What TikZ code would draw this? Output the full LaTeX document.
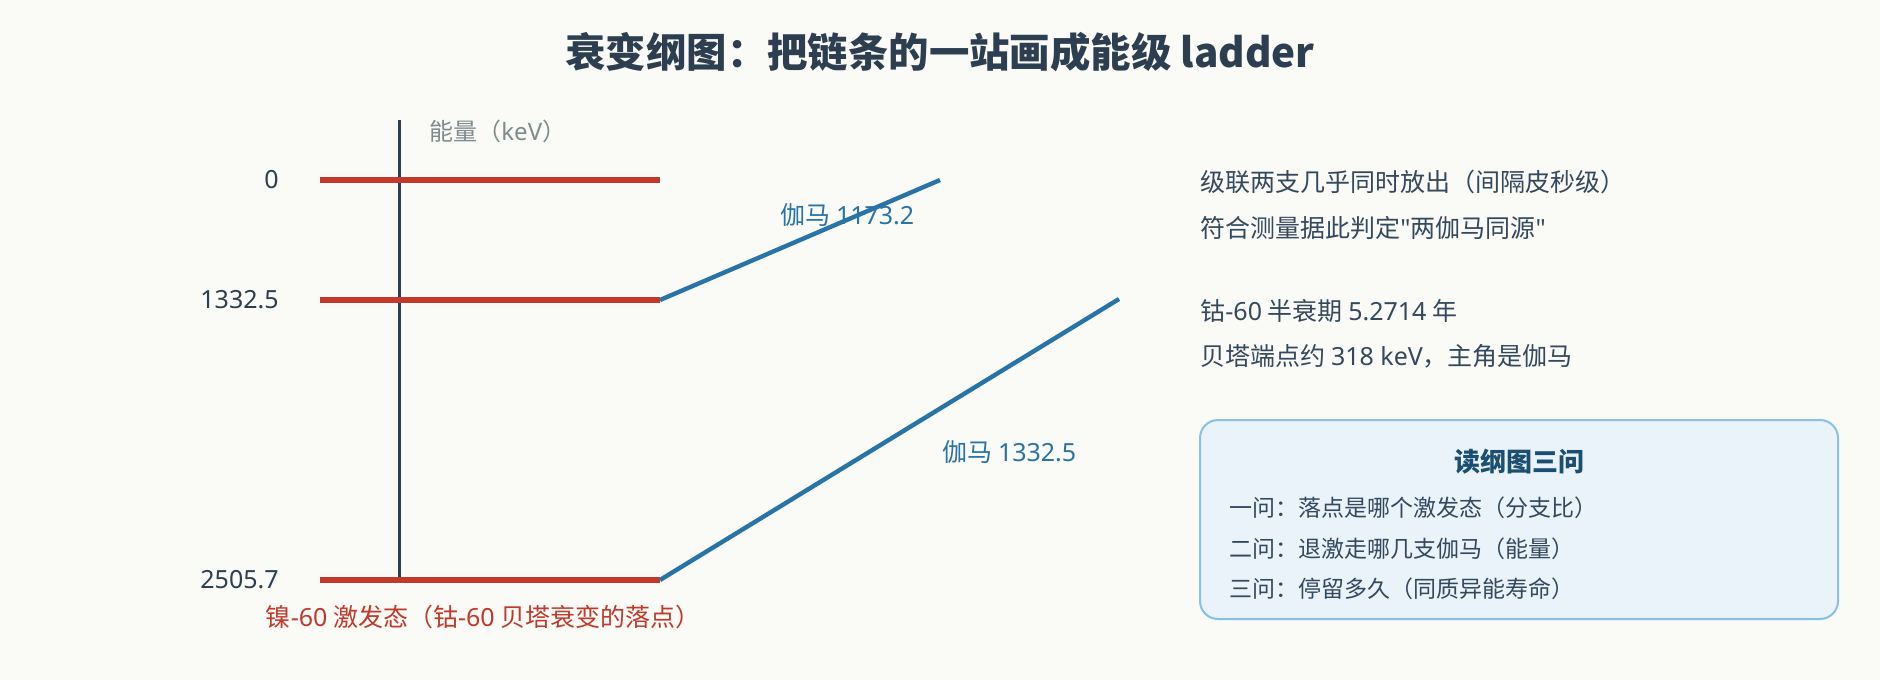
\documentclass[tikz,border=0pt]{standalone}
\usepackage{fontspec}
\setmainfont{Noto Sans CJK SC}
\newfontfamily\latinfont{Noto Sans}
\usepackage{xcolor}
\usetikzlibrary{positioning}
\definecolor{paper}{HTML}{FAFAF6}
\definecolor{ink}{HTML}{2C3E50}
\definecolor{notegray}{HTML}{34495E}
\definecolor{axisgray}{HTML}{7F8C8D}
\definecolor{levelred}{HTML}{C0392B}
\definecolor{gammablue}{HTML}{2874A6}
\definecolor{boxfill}{HTML}{EAF2FA}
\definecolor{boxline}{HTML}{85C1E9}
\definecolor{boxhead}{HTML}{1B4F72}
\newcommand\lat[1]{{\latinfont #1}}
\tikzset{%
    level/.style={draw=levelred, line width=3pt},
    gamma/.style={draw=gammablue, line width=2.2pt},
    txt/.style={inner sep=0pt, font=\fontsize{12.5}{15}\selectfont, text=ink},
    note/.style={txt, anchor=west, text=notegray},
    item/.style={txt, anchor=west, text=notegray, font=\fontsize{11.5}{14}\selectfont}
}

\begin{document}
\begin{tikzpicture}[x=0.5pt,y=-0.5pt]
    \fill[paper] (0,0) rectangle (1880,680);
    \useasboundingbox (0,0) rectangle (1880,680);
    \node[txt, font=\fontsize{20.2}{24}\selectfont\bfseries] (head) at (940,52) {衰变纲图：把链条的一站画成能级 ladder};

    % energy axis
    \draw[ink, line width=1.5pt] (399,120) coordinate (axtop) -- (399,580) coordinate (axbot);
    \node[txt, anchor=west, text=axisgray, font=\fontsize{12}{14}\selectfont] (unit) at (429,131) {能量（\lat{keV}）};

    % levels
    \foreach \y/\e/\n in {180/0/g, 300/1332.5/m, 580/2505.7/x} {
        \draw[level] (320,\y) coordinate (l\n) -- (660,\y) coordinate (r\n);
        \node[txt, anchor=east] (lab\n) at (279,\y) {\lat{\e}};
    }
    \node[txt, text=levelred] (state) at (483,617) {镍\lat{-60} 激发态（钴\lat{-60} 贝塔衰变的落点）};

    % gammas
    \coordinate (gtop) at (940,180);
    \coordinate (gmid) at (1119,299);
    \draw[gamma] (rm) -- (gtop);
    \draw[gamma] (rx) -- (gmid);
    \node[txt, anchor=west, text=gammablue] (ga) at (780,215) {伽马 \lat{1173.2}};
    \node[txt, anchor=west, text=gammablue] (gb) at (942,452) {伽马 \lat{1332.5}};

    % notes
    \node[note] (na) at (1200,182) {级联两支几乎同时放出（间隔皮秒级）};
    \node[note] (nb) at (1200,228) {符合测量据此判定\lat{"}两伽马同源\lat{"}};
    \node[note] (nc) at (1200,311) {钴\lat{-60} 半衰期 \lat{5.2714} 年};
    \node[note] (nd) at (1200,356) {贝塔端点约 \lat{318 keV}，主角是伽马};

    % three questions
    \draw[fill=boxfill, draw=boxline, line width=1pt, rounded corners=9pt] (1200,420) rectangle (1838,619);
    \node[txt, text=boxhead, font=\fontsize{13}{15}\selectfont\bfseries] (qh) at (1519,462) {读纲图三问};
    \node[item] (qa) at (1229,508) {一问：落点是哪个激发态（分支比）};
    \node[item] (qb) at (1229,549) {二问：退激走哪几支伽马（能量）};
    \node[item] (qc) at (1229,589) {三问：停留多久（同质异能寿命）};
\end{tikzpicture}
\end{document}
